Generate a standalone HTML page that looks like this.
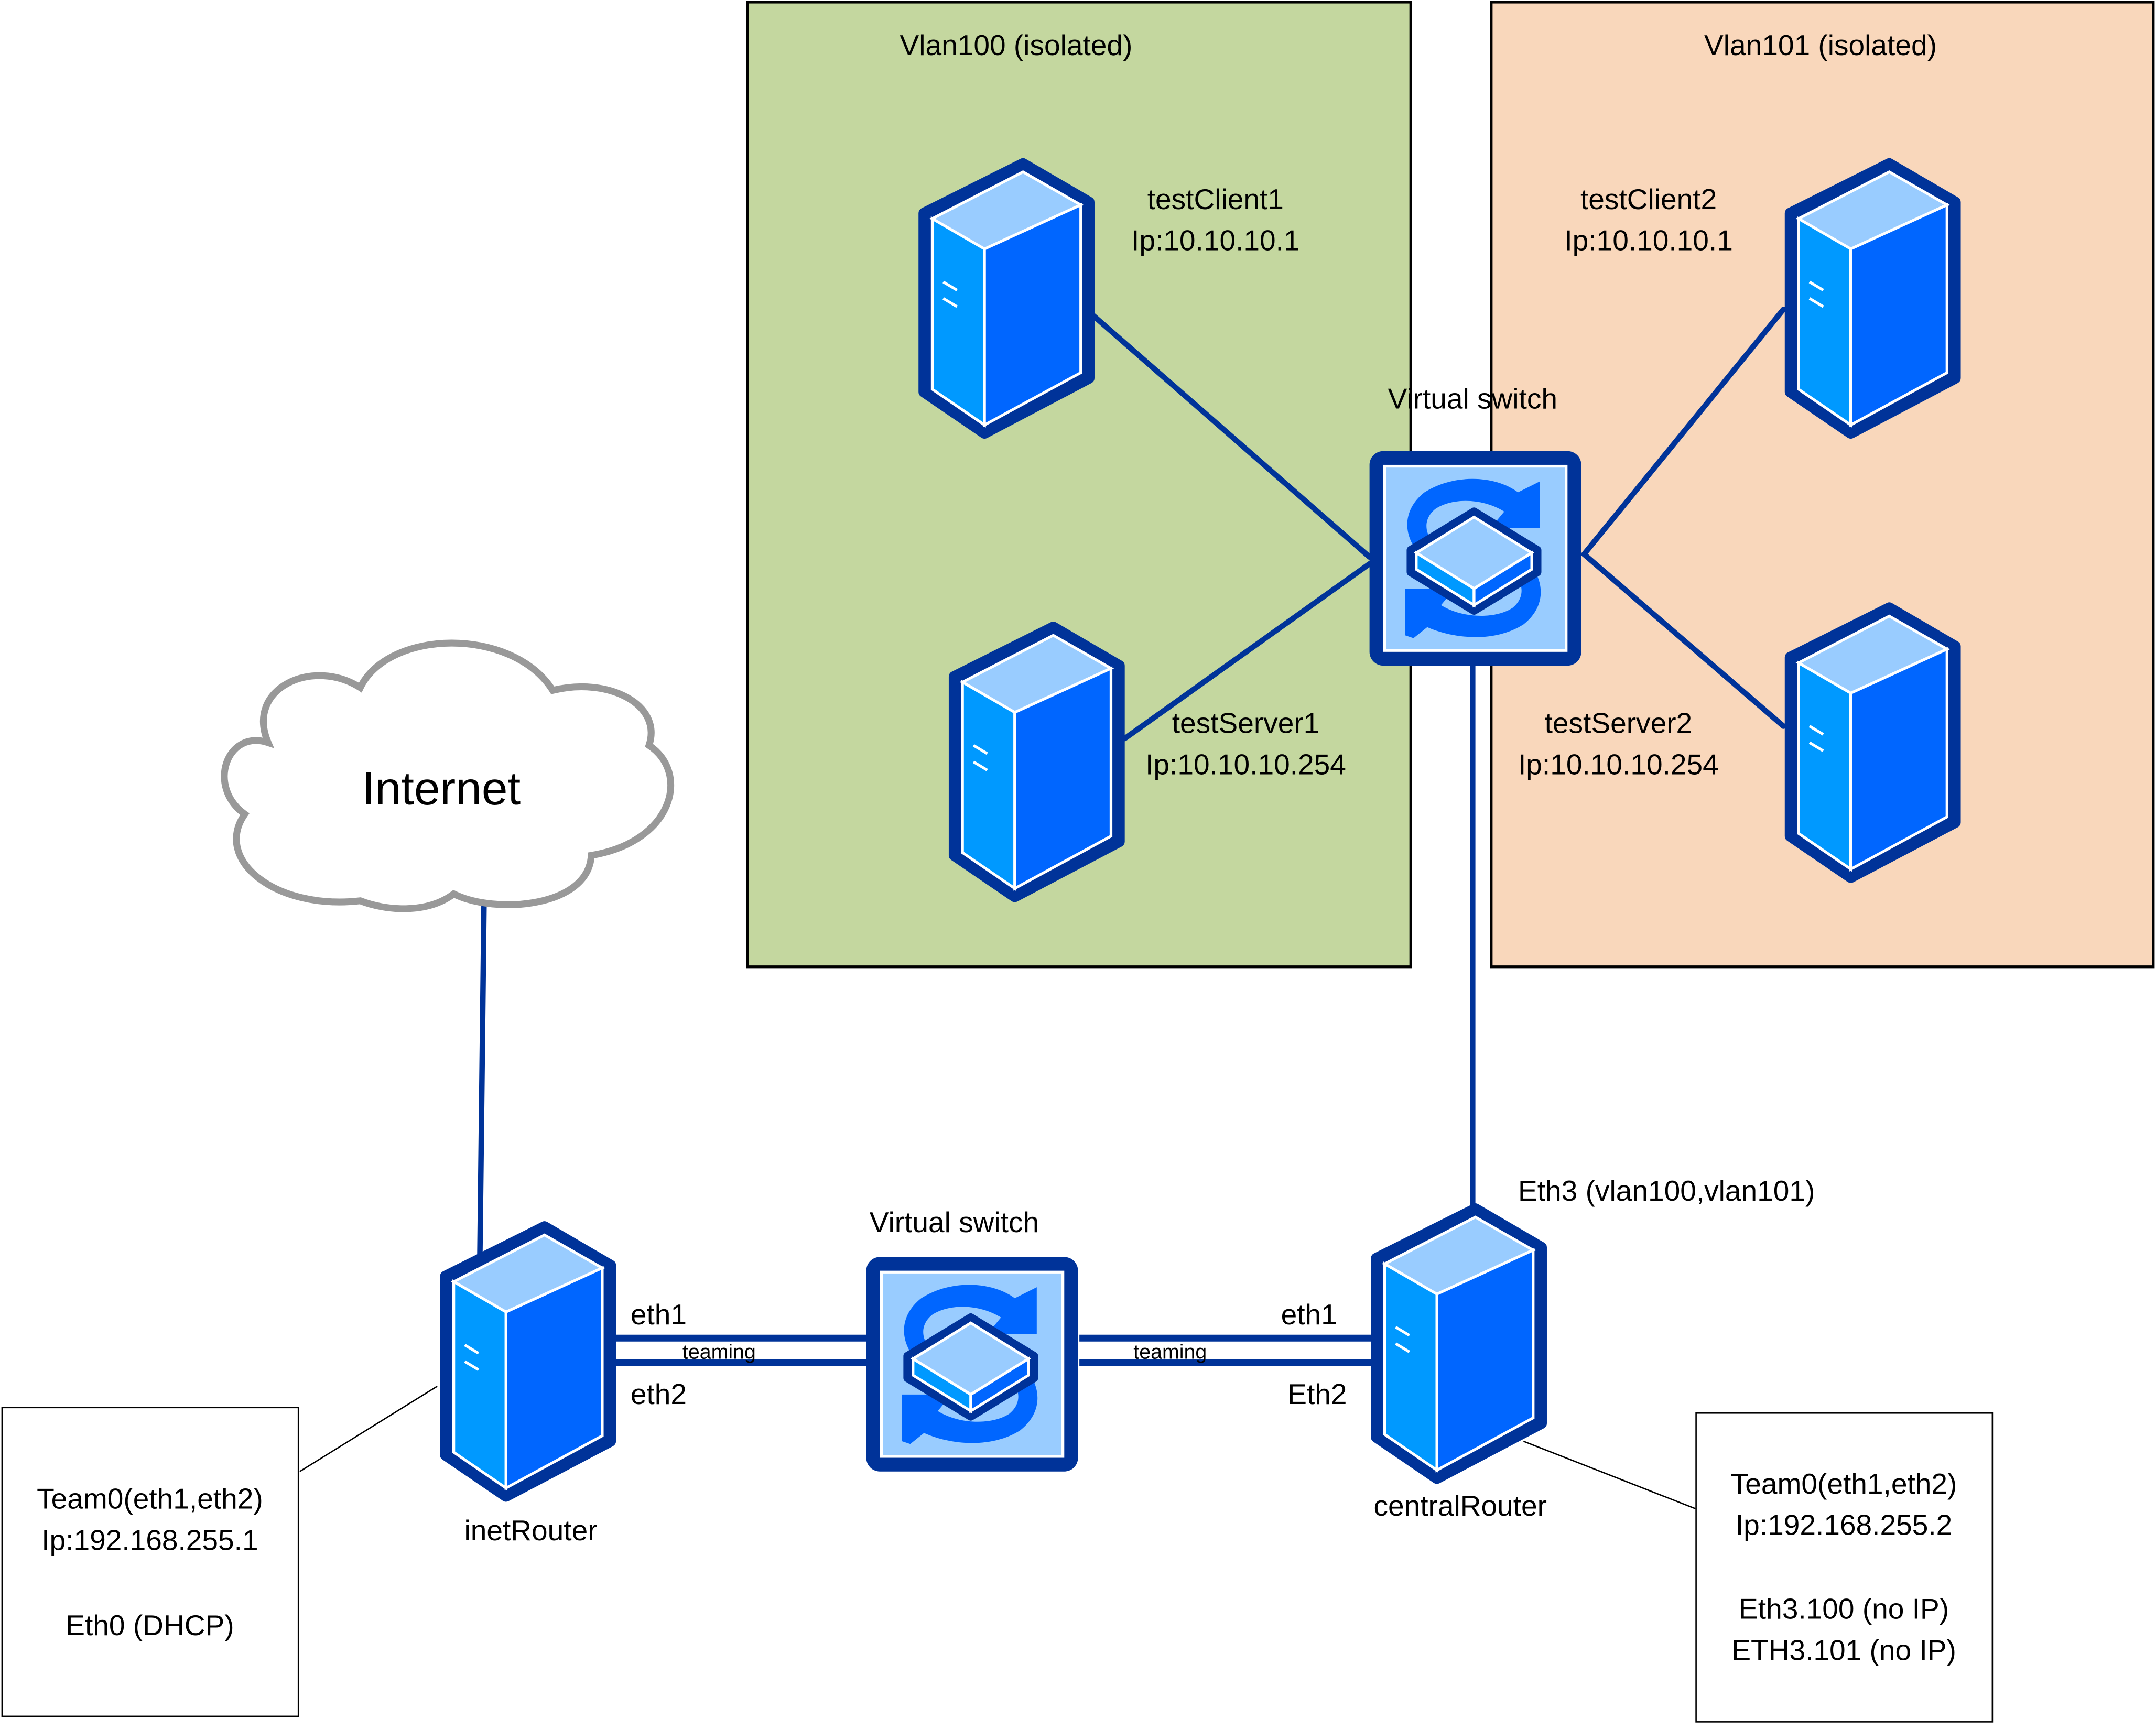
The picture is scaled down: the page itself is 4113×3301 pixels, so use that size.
<!DOCTYPE html>
<html><head><style>
html,body{margin:0;padding:0;background:#fff;}
#wrap{width:1568px;height:1253px;transform:scale(2.6231,2.6241);transform-origin:0 0;position:relative;}
svg text{font-family:"Liberation Sans",sans-serif;fill:#000;}
</style></head><body><div id="wrap">
<svg width="1568" height="1253" viewBox="0 0 1568 1253" xmlns="http://www.w3.org/2000/svg">
<defs>
<g id="srv">
<path d="M4,40 L76,4 L124,32 L124,160 L48,200 L4,170 Z" fill="#003399" stroke="#003399" stroke-width="8" stroke-linejoin="round"/>
<path d="M10,44 L76,10 L118,34 L48,66 Z" fill="#99ccff" stroke="#fff" stroke-width="2"/>
<path d="M10,44 L48,66 L48,194 L10,168 Z" fill="#0099ff" stroke="#fff" stroke-width="2"/>
<path d="M48,66 L118,34 L118,156 L48,194 Z" fill="#0066ff" stroke="#fff" stroke-width="2"/>
<path d="M18,90 L28,96 M18,102 L28,108" stroke="#fff" stroke-width="2"/>
</g>
<g id="sw">
<rect x="0" y="0" width="154" height="156" rx="10" fill="#003399"/>
<rect x="11" y="11" width="132" height="134" fill="#99ccff" stroke="#fff" stroke-width="2"/>
<path d="M124,22 L124,56 L88,56 L98,44 C82,34 60,34 48,42 C38,50 40,62 50,70 L42,80 C24,66 22,44 40,30 C62,16 92,18 108,30 Z" fill="#0066ff"/>
<path d="M26,134 L26,100 L62,100 L52,112 C68,122 92,122 104,114 C114,106 112,94 102,86 L110,76 C128,90 130,112 112,126 C90,140 60,136 42,128 L32,136 Z" fill="#0066ff"/>
<path d="M30,72 L76,44 L122,72 L122,88 L76,116 L30,88 Z" fill="#003399" stroke="#003399" stroke-width="6" stroke-linejoin="round"/>
<path d="M34,74 L76,48 L118,74 L76,100 Z" fill="#99ccff" stroke="#fff" stroke-width="2"/>
<path d="M34,74 L76,100 L76,112 L34,86 Z" fill="#0099ff" stroke="#fff" stroke-width="2"/>
<path d="M76,100 L118,74 L118,86 L76,112 Z" fill="#0066ff" stroke="#fff" stroke-width="2"/>
</g>
</defs>
<rect x="543.5" y="1.5" width="482.5" height="701.5" fill="#c4d79f" stroke="#000" stroke-width="2"/>
<rect x="1084.5" y="1.5" width="481.5" height="701.5" fill="#f9d7bb" stroke="#000" stroke-width="2"/>
<g stroke="#003399" stroke-width="4" fill="none" stroke-linecap="round">
<path d="M782,218 L996,405"/><path d="M818,537 L996,410"/>
<path d="M1297,225 L1152,403"/><path d="M1297,528 L1152,403"/>
<path d="M1071,470 L1071,876"/><path d="M352,658 L349,913"/>
<path d="M440,973 L632,973 M440,991 L632,991 M785,973 L997,973 M785,991 L997,991" stroke-linecap="butt" stroke-width="5"/>
</g>
<path d="M218,1070 L318,1008 M1108,1048 L1233,1097" stroke="#000" stroke-width="1"/>
<use href="#srv" x="668" y="115"/>
<use href="#srv" x="690" y="452"/>
<use href="#srv" x="1298" y="115"/>
<use href="#srv" x="1298" y="438"/>
<use href="#srv" x="320" y="888"/>
<use href="#srv" x="997" y="875"/>
<use href="#sw" x="996" y="328"/>
<use href="#sw" x="630" y="914"/>
<path d="M262,655 C200,662 155,625 178,592 C150,572 165,530 195,540 C178,500 228,478 262,500 C282,458 372,455 402,502 C442,492 482,512 472,542 C502,562 490,612 430,622 C428,660 360,665 330,650 C310,665 280,662 262,655 Z" fill="#fff" stroke="#999" stroke-width="5"/>
<rect x="1.5" y="1023.5" width="215.5" height="224.5" fill="#fff" stroke="#000" stroke-width="1"/>
<rect x="1233.5" y="1027.5" width="215.5" height="224.5" fill="#fff" stroke="#000" stroke-width="1"/>
<g font-size="21" text-anchor="middle">
<text x="739" y="40">Vlan100 (isolated)</text>
<text x="1324" y="40">Vlan101 (isolated)</text>
<text x="884" y="152">testClient1</text><text x="884" y="182">Ip:10.10.10.1</text>
<text x="1199" y="152">testClient2</text><text x="1199" y="182">Ip:10.10.10.1</text>
<text x="1071" y="297">Virtual switch</text>
<text x="906" y="533">testServer1</text><text x="906" y="563">Ip:10.10.10.254</text>
<text x="1177" y="533">testServer2</text><text x="1177" y="563">Ip:10.10.10.254</text>
<text x="694" y="896">Virtual switch</text>
<text x="1212" y="873">Eth3 (vlan100,vlan101)</text>
<text x="479" y="963">eth1</text><text x="479" y="1021">eth2</text>
<text x="952" y="963">eth1</text><text x="958" y="1021">Eth2</text>
<text x="386" y="1120">inetRouter</text>
<text x="1062" y="1102">centralRouter</text>
<text x="109" y="1097">Team0(eth1,eth2)</text><text x="109" y="1127">Ip:192.168.255.1</text>
<text x="109" y="1189">Eth0 (DHCP)</text>
<text x="1341" y="1086">Team0(eth1,eth2)</text><text x="1341" y="1116">Ip:192.168.255.2</text>
<text x="1341" y="1177">Eth3.100 (no IP)</text><text x="1341" y="1207">ETH3.101 (no IP)</text>
<text x="321" y="585" font-size="34">Internet</text>
<text x="523" y="988" font-size="15">teaming</text>
<text x="851" y="988" font-size="15">teaming</text>
</g>
</svg></div></body></html>
